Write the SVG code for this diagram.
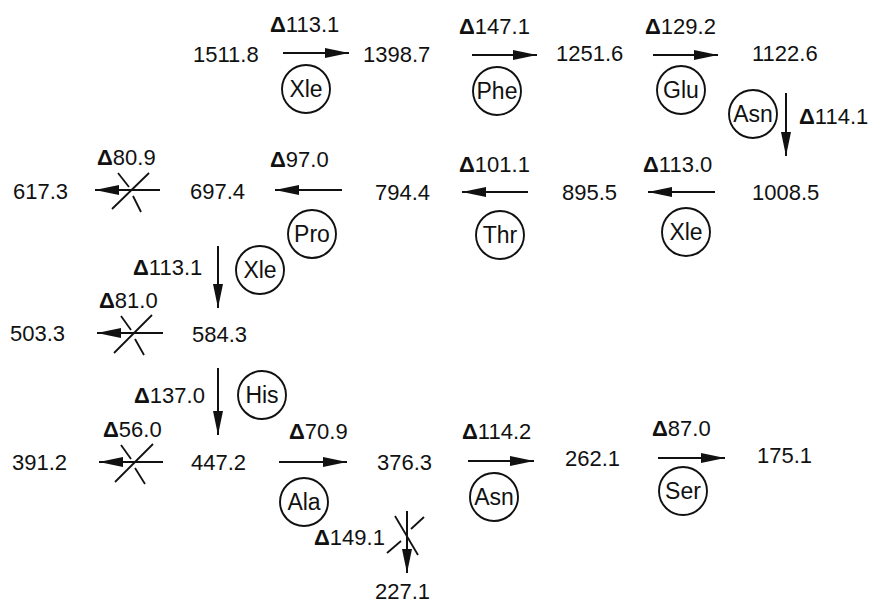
<svg xmlns="http://www.w3.org/2000/svg" width="874" height="607" viewBox="0 0 874 607">
<style>
text{font-family:"Liberation Sans",Arial,sans-serif;font-size:22px;fill:#111}
.d{font-weight:bold}
.res circle{fill:none;stroke:#111;stroke-width:1.9}
.res text{text-anchor:middle;font-size:23px}
.c line{stroke:#111;stroke-width:2}
.c .x{stroke-width:1.8}
</style>
<defs>
<marker id="ah" viewBox="0 0 24 10" refX="24" refY="5" markerWidth="24" markerHeight="10" markerUnits="userSpaceOnUse" orient="auto">
<path d="M0,0 L24,5 L0,10 Z" fill="#111"/>
</marker>
</defs>

<g id="m1511"><text x="193" y="62">1511.8</text></g>
<g id="m1398"><text x="363" y="62">1398.7</text></g>
<g id="m1251"><text x="556" y="61">1251.6</text></g>
<g id="m1122"><text x="752" y="61">1122.6</text></g>
<g id="m1008"><text x="752" y="200">1008.5</text></g>
<g id="m895"><text x="562" y="200">895.5</text></g>
<g id="m794"><text x="375" y="200">794.4</text></g>
<g id="m697"><text x="190" y="199">697.4</text></g>
<g id="m617"><text x="13" y="199">617.3</text></g>
<g id="m584"><text x="192" y="342">584.3</text></g>
<g id="m503"><text x="10" y="341">503.3</text></g>
<g id="m447"><text x="191" y="470">447.2</text></g>
<g id="m391"><text x="12" y="470">391.2</text></g>
<g id="m376"><text x="377" y="470">376.3</text></g>
<g id="m262"><text x="565" y="466">262.1</text></g>
<g id="m175"><text x="757" y="463">175.1</text></g>
<g id="m227"><text x="375" y="599">227.1</text></g>

<g id="r-xle1" class="res"><circle cx="306" cy="89" r="24"/><text x="306" y="97">Xle</text></g>
<g id="r-phe" class="res"><circle cx="497" cy="91" r="24"/><text x="497" y="99">Phe</text></g>
<g id="r-glu" class="res"><circle cx="681" cy="90" r="24"/><text x="681" y="98">Glu</text></g>
<g id="r-asn1" class="res"><circle cx="753" cy="114" r="24"/><text x="753" y="122">Asn</text></g>
<g id="r-xle2" class="res"><circle cx="686" cy="232" r="24"/><text x="686" y="240">Xle</text></g>
<g id="r-thr" class="res"><circle cx="500" cy="235" r="24"/><text x="500" y="243">Thr</text></g>
<g id="r-pro" class="res"><circle cx="312" cy="234" r="24"/><text x="312" y="242">Pro</text></g>
<g id="r-xle3" class="res"><circle cx="260" cy="270" r="24"/><text x="260" y="278">Xle</text></g>
<g id="r-his" class="res"><circle cx="262" cy="395" r="24"/><text x="262" y="403">His</text></g>
<g id="r-ala" class="res"><circle cx="304" cy="502" r="24"/><text x="304" y="510">Ala</text></g>
<g id="r-asn2" class="res"><circle cx="494" cy="497" r="24"/><text x="494" y="505">Asn</text></g>
<g id="r-ser" class="res"><circle cx="683" cy="491" r="24"/><text x="683" y="499">Ser</text></g>

<g id="labels">
<text x="270" y="32"><tspan class="d">Δ</tspan>113.1</text>
<text x="459" y="34"><tspan class="d">Δ</tspan>147.1</text>
<text x="645" y="34"><tspan class="d">Δ</tspan>129.2</text>
<text x="799" y="124"><tspan class="d">Δ</tspan>114.1</text>
<text x="643" y="172"><tspan class="d">Δ</tspan>113.0</text>
<text x="459" y="172"><tspan class="d">Δ</tspan>101.1</text>
<text x="270" y="167"><tspan class="d">Δ</tspan>97.0</text>
<text x="97" y="165"><tspan class="d">Δ</tspan>80.9</text>
<text x="133" y="275"><tspan class="d">Δ</tspan>113.1</text>
<text x="99" y="308"><tspan class="d">Δ</tspan>81.0</text>
<text x="134" y="403"><tspan class="d">Δ</tspan>137.0</text>
<text x="103" y="437"><tspan class="d">Δ</tspan>56.0</text>
<text x="289" y="439"><tspan class="d">Δ</tspan>70.9</text>
<text x="462" y="439"><tspan class="d">Δ</tspan>114.2</text>
<text x="652" y="436"><tspan class="d">Δ</tspan>87.0</text>
<text x="314" y="545"><tspan class="d">Δ</tspan>149.1</text>
</g>

<g id="connectors" class="c">
<line x1="283" y1="53" x2="349" y2="53" marker-end="url(#ah)"/>
<line x1="472" y1="55" x2="537" y2="55" marker-end="url(#ah)"/>
<line x1="653" y1="55" x2="718" y2="55" marker-end="url(#ah)"/>
<line x1="786" y1="93" x2="786" y2="156" marker-end="url(#ah)"/>
<line x1="715" y1="192" x2="648" y2="192" marker-end="url(#ah)"/>
<line x1="528" y1="192" x2="462" y2="192" marker-end="url(#ah)"/>
<line x1="342" y1="190" x2="275" y2="190" marker-end="url(#ah)"/>
<line x1="160" y1="190" x2="95" y2="190" marker-end="url(#ah)"/>
<line class="x" x1="112" y1="209" x2="149" y2="173"/>
<line class="x" x1="118" y1="173" x2="129" y2="187"/>
<line class="x" x1="133" y1="196" x2="141" y2="212"/>
<line x1="218" y1="246" x2="218" y2="308" marker-end="url(#ah)"/>
<line x1="163" y1="333" x2="97" y2="333" marker-end="url(#ah)"/>
<line class="x" x1="114" y1="353" x2="152" y2="315"/>
<line class="x" x1="121" y1="316" x2="131" y2="330"/>
<line class="x" x1="135" y1="339" x2="144" y2="355"/>
<line x1="218" y1="368" x2="218" y2="435" marker-end="url(#ah)"/>
<line x1="163" y1="462" x2="99" y2="462" marker-end="url(#ah)"/>
<line class="x" x1="115" y1="482" x2="153" y2="444"/>
<line class="x" x1="121" y1="445" x2="131" y2="459"/>
<line class="x" x1="135" y1="468" x2="145" y2="484"/>
<line x1="279" y1="462" x2="347" y2="462" marker-end="url(#ah)"/>
<line x1="468" y1="461" x2="534" y2="461" marker-end="url(#ah)"/>
<line x1="658" y1="458" x2="725" y2="458" marker-end="url(#ah)"/>
<line x1="407" y1="511" x2="407" y2="573" marker-end="url(#ah)"/>
<line class="x" x1="395" y1="516" x2="418" y2="555"/>
<line class="x" x1="387" y1="553" x2="401" y2="541"/>
<line class="x" x1="411" y1="529" x2="424" y2="517"/>
</g>
</svg>
